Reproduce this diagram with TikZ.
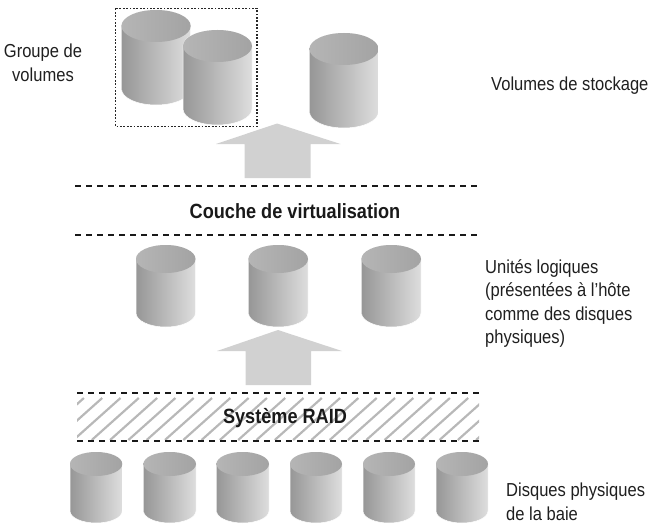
\documentclass[tikz,border=0pt]{standalone}
\usepackage{fontspec}
\setmainfont[FakeStretch=0.88]{Liberation Sans}
\tikzset{
  x=1pt,y=-1pt,
  lbl/.style={inner sep=0pt,anchor=north west,align=left,text=black!88,font=\fontsize{18.8}{23.5}\selectfont},
  heading/.style={inner sep=0pt,text=black!90,font=\fontsize{20.6}{24}\selectfont\bfseries},
  sep line/.style={line width=2pt,black!90,dash pattern=on 6pt off 5pt},
  group box/.style={line width=1.2pt,black!85,dash pattern=on 1.8pt off 1.6pt},
  bigarrow/.style={fill=black!18,draw=none},
  cylside/.style={left color=black!41,right color=black!13,draw=white,line width=0.5pt},
  cyltop/.style={left color=black!29,right color=black!36,draw=none},
  stripe/.style={line width=2.2pt,black!28}
}
% x left, x right, y top, ellipse ry, y bottom
\newcommand{\cylindre}[5]{%
  \pgfmathsetmacro{\cx}{(#1+#2)/2}%
  \pgfmathsetmacro{\rx}{(#2-#1)/2}%
  \pgfmathsetmacro{\cy}{#3+#4}%
  \pgfmathsetmacro{\by}{#5-#4}%
  \path[cylside] (#1,\cy) -- (#1,\by) arc[start angle=180,end angle=360,x radius=\rx,y radius=-#4] -- (#2,\cy) arc[start angle=0,end angle=180,x radius=\rx,y radius=-#4] -- cycle;
  \path[cyltop] (\cx,\cy) ellipse[x radius=\rx,y radius=#4];
}
\newcommand{\fleche}[8]{%
  \path[bigarrow] (#3,#8) -- (#3,#7) -- (#1,#7) -- (#2,#6) -- (#5,#7) -- (#4,#7) -- (#4,#8) -- cycle;
}
\begin{document}
\begin{tikzpicture}
\useasboundingbox (0,0) rectangle (651,527);
% top volumes
\cylindre{121.5}{190.7}{10}{16}{105}
\cylindre{183}{252}{30}{16}{125}
\cylindre{309.5}{378.5}{33}{16}{128}
\coordinate (gbA) at (115.5,8.5);
\coordinate (gbB) at (257,126.5);
\draw[group box] (gbA) rectangle (gbB);
\fleche{216}{277}{244.5}{310.5}{340.5}{123.5}{144}{178}
% virtualisation layer
\coordinate (l1a) at (75,186); \coordinate (l1b) at (480,186);
\coordinate (l2a) at (75,235); \coordinate (l2b) at (480,235);
\draw[sep line] (l1a) -- (l1b);
\draw[sep line] (l2a) -- (l2b);
\node[heading] (couche) at (295,211) {Couche de virtualisation};
% logical units
\cylindre{136}{195.5}{245}{14}{327}
\cylindre{248.5}{308}{245}{14}{327}
\cylindre{361.5}{421}{245}{14}{327}
\fleche{217}{278}{245.5}{311}{342}{330}{351}{385}
% RAID layer
\begin{scope}
\clip (77,395) rectangle (479,440);
\foreach \k in {2,...,26}
  \draw[stripe] ({\k*18.3+0.3},440) -- ++(47,-42);
\end{scope}
\coordinate (l3a) at (77,393); \coordinate (l3b) at (480,393);
\coordinate (l4a) at (77,441); \coordinate (l4b) at (480,441);
\draw[sep line] (l3a) -- (l3b);
\draw[sep line] (l4a) -- (l4b);
\node[heading] (raid) at (285,418) {Système RAID};
% physical disks
\cylindre{70}{122.3}{452}{12}{523}
\cylindre{143.5}{196}{452}{12}{523}
\cylindre{216.5}{269}{452}{12}{523}
\cylindre{290}{342}{452}{12}{523}
\cylindre{363}{415}{452}{12}{523}
\cylindre{436}{488}{452}{12}{523}
% labels
\node[lbl,anchor=north,align=center] (groupe) at (43,44) {Groupe de\\volumes};
\node[lbl] (stockage) at (491,77) {Volumes de stockage};
\node[lbl] (unites) at (485,259) {Unités logiques\\(présentées à l’hôte\\comme des disques\\physiques)};
\node[lbl] (disques) at (506,483) {Disques physiques\\de la baie};
\end{tikzpicture}
\end{document}
